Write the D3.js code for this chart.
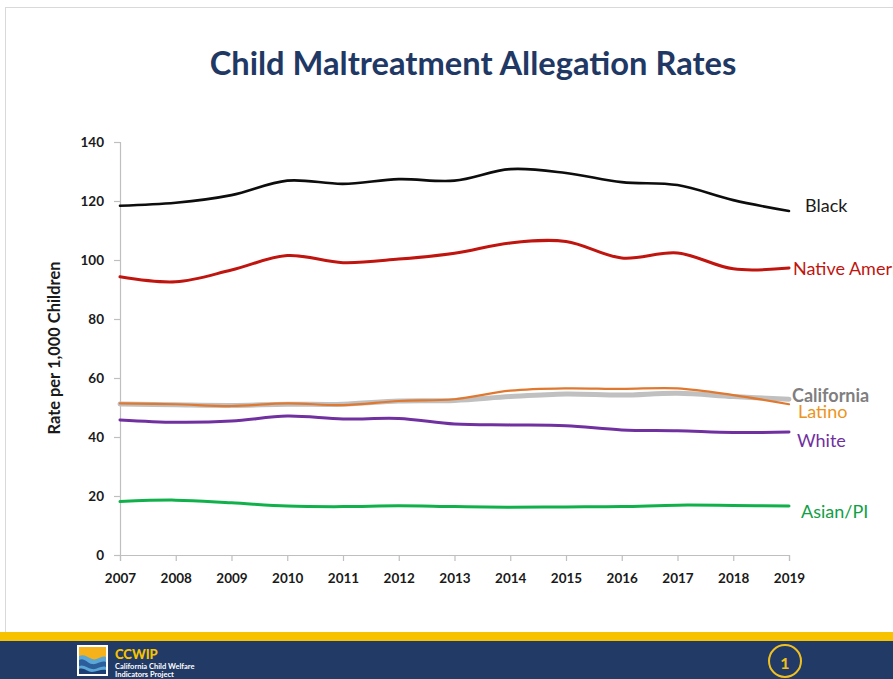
<!DOCTYPE html>
<html>
<head>
<meta charset="utf-8">
<script src="https://cdn.jsdelivr.net/npm/d3@7"></script>
<style>
  html, body { margin: 0; padding: 0; background: #fff; }
  svg { display: block; }
  text { font-family: Lato, "Open Sans", sans-serif; }
</style>
</head>
<body>
<svg id="chart" width="893" height="679"></svg>
<script>
// Allegation rates per 1,000 children, 2007–2019
const years = [2007, 2008, 2009, 2010, 2011, 2012, 2013, 2014, 2015, 2016, 2017, 2018, 2019];
const black          = [118.4, 119.4, 122.0, 126.9, 125.8, 127.4, 126.9, 130.8, 129.5, 126.4, 125.4, 120.3, 116.6];
const nativeAmerican = [94.3, 92.6, 96.6, 101.5, 99.1, 100.3, 102.3, 105.8, 106.3, 100.7, 102.4, 97.0, 97.3];
const california     = [51.2, 50.9, 50.7, 51.1, 51.1, 52.2, 52.4, 53.7, 54.6, 54.2, 54.8, 53.7, 52.8];
const latino         = [51.4, 51.1, 50.5, 51.4, 50.8, 52.2, 52.8, 55.7, 56.5, 56.3, 56.5, 54.2, 51.1];
const white          = [45.8, 45.0, 45.4, 47.1, 46.1, 46.3, 44.4, 44.1, 43.8, 42.4, 42.1, 41.5, 41.7];
const asianPI        = [18.1, 18.6, 17.7, 16.6, 16.4, 16.7, 16.4, 16.2, 16.3, 16.4, 16.9, 16.8, 16.6];
const yTicks = [0, 20, 40, 60, 80, 100, 120, 140];
const seriesNames = ["Black", "Native American", "California", "Latino", "White", "Asian/PI"];
const labelTexts  = ["Black", "Native American", "California", "Latino", "White", "Asian/PI"];

const svg = d3.select("#chart");
const W = 893, H = 679;

// slide frame
svg.append("line").attr("x1", 5).attr("x2", W).attr("y1", 7.5).attr("y2", 7.5)
  .attr("stroke", "#d9d9d9").attr("stroke-width", 1);
svg.append("line").attr("x1", 5.5).attr("x2", 5.5).attr("y1", 7).attr("y2", 632)
  .attr("stroke", "#d9d9d9").attr("stroke-width", 1);

// title
const title = svg.append("text")
  .attr("x", 473).attr("y", 75)
  .attr("text-anchor", "middle")
  .attr("font-weight", 700)
  .attr("font-size", 30)
  .attr("fill", "#1f3864")
  .text("Child Maltreatment Allegation Rates");
{
  const w = title.node().getComputedTextLength();
  title.attr("font-size", 30 * 527 / w);
}

// scales
const x = d3.scaleLinear().domain([2007, 2019]).range([120, 789]);
const y = d3.scaleLinear().domain([0, 140]).range([555, 142]);

// axes
const axisColor = "#bfbfbf";
const yAxis = svg.append("g").attr("transform", "translate(120,0)")
  .call(d3.axisLeft(y).tickValues(yTicks).tickSize(6).tickPadding(10));
const xAxis = svg.append("g").attr("transform", "translate(0,555)")
  .call(d3.axisBottom(x).tickValues(years).tickFormat(d3.format("d")).tickSize(6).tickPadding(12));
[yAxis, xAxis].forEach(g => {
  g.select(".domain").attr("stroke", axisColor).attr("stroke-width", 1.2);
  g.selectAll(".tick line").attr("stroke", axisColor).attr("stroke-width", 1.2);
  g.selectAll(".tick text")
    .attr("fill", "#1a1a1a")
    .attr("font-weight", 700)
    .attr("font-size", 13.5)
    .attr("font-family", "Lato, 'Open Sans', sans-serif");
});

// y axis title
const yTitle = svg.append("text")
  .attr("transform", "translate(60,348) rotate(-90)")
  .attr("text-anchor", "middle")
  .attr("font-weight", 700)
  .attr("font-size", 14)
  .attr("fill", "#1a1a1a")
  .text("Rate per 1,000 Children");
{
  const w = yTitle.node().getComputedTextLength();
  yTitle.attr("font-size", 14 * 173 / w);
}

// series
const series = [
  { name: seriesNames[0], values: black,          color: "#0d0d0d", width: 2.6, label: labelTexts[0], lx: 805, dy: -6,  lcolor: "#1a1a1a", lw: 400 },
  { name: seriesNames[1], values: nativeAmerican, color: "#c0150f", width: 3,   label: labelTexts[1], lx: 793, dy: 0,   lcolor: "#c0150f", lw: 400 },
  { name: seriesNames[2], values: california,     color: "#c0c0c0", width: 5,   label: labelTexts[2], lx: 792, dy: -4,  lcolor: "#7f7f7f", lw: 700 },
  { name: seriesNames[4], values: white,          color: "#7030a0", width: 3,   label: labelTexts[4], lx: 797, dy: 8,   lcolor: "#7030a0", lw: 400 },
  { name: seriesNames[5], values: asianPI,        color: "#10b04a", width: 3,   label: labelTexts[5], lx: 801, dy: 5,   lcolor: "#10a045", lw: 400 },
  { name: seriesNames[3], values: latino,         color: "#e0782f", width: 2.2, label: labelTexts[3], lx: 798, dy: 7,   lcolor: "#ec9420", lw: 400 }
];

const line = d3.line()
  .x((d, i) => x(years[i]))
  .y(d => y(d))
  .curve(d3.curveCatmullRom.alpha(0.5));

svg.append("g").selectAll("path")
  .data(series)
  .join("path")
  .attr("d", d => line(d.values))
  .attr("fill", "none")
  .attr("stroke", d => d.color)
  .attr("stroke-width", d => d.width)
  .attr("stroke-linecap", "round")
  .attr("stroke-linejoin", "round");

// end labels
svg.append("g").selectAll("text")
  .data(series)
  .join("text")
  .attr("x", d => d.lx)
  .attr("y", d => y(d.values[d.values.length - 1]) + d.dy)
  .attr("dominant-baseline", "central")
  .attr("font-size", 18)
  .attr("font-weight", d => d.lw)
  .attr("fill", d => d.lcolor)
  .text(d => d.label);

// footer band
svg.append("rect").attr("x", 0).attr("y", 632).attr("width", W).attr("height", 9).attr("fill", "#f7c300");
svg.append("rect").attr("x", 0).attr("y", 641).attr("width", W).attr("height", H - 641).attr("fill", "#213a66");

// logo
const logo = svg.append("g").attr("transform", "translate(77,645)");
logo.append("rect").attr("x", 0).attr("y", 0).attr("width", 31).attr("height", 31).attr("fill", "#ffffff");
logo.append("rect").attr("x", 2).attr("y", 2).attr("width", 27).attr("height", 27).attr("fill", "#5aa6d6");
logo.append("path").attr("d", "M2,2 H29 V12 C24,10 20,16 15,14 C10,12 7,9 2,11 Z").attr("fill", "#f5b21b");
logo.append("path").attr("d", "M2,15 C7,12 10,18 15,19 C20,20 24,15 29,17 V22 C24,20 20,25 15,24 C10,23 7,19 2,21 Z").attr("fill", "#2b5e9b");
logo.append("path").attr("d", "M2,24 C7,22 10,27 15,27 C20,27 24,24 29,25 V29 H2 Z").attr("fill", "#1d3f73");

svg.append("text").attr("x", 115).attr("y", 659)
  .attr("font-size", 13).attr("font-weight", 900).attr("fill", "#f7c300")
  .text("CCWIP");
svg.append("text").attr("x", 115).attr("y", 669)
  .attr("font-size", 7.5).attr("font-weight", 700).attr("fill", "#ffffff")
  .text("California Child Welfare");
svg.append("text").attr("x", 115).attr("y", 677)
  .attr("font-size", 7.5).attr("font-weight", 700).attr("fill", "#ffffff")
  .text("Indicators Project");

// page number
svg.append("circle").attr("cx", 785).attr("cy", 661).attr("r", 16)
  .attr("fill", "none").attr("stroke", "#f0c020").attr("stroke-width", 2);
svg.append("text").attr("x", 785).attr("y", 662)
  .attr("text-anchor", "middle").attr("dominant-baseline", "central")
  .attr("font-family", "'DejaVu Serif', 'Liberation Serif', serif")
  .attr("font-size", 16).attr("font-weight", 700).attr("fill", "#f0c020")
  .text("1");
</script>
</body>
</html>
